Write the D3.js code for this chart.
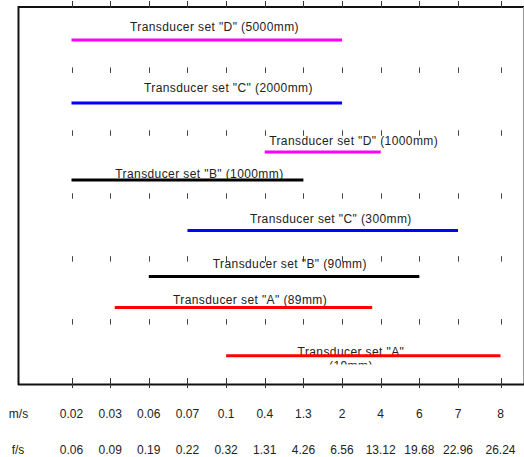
<!DOCTYPE html>
<html><head><meta charset="utf-8">
<script src="https://cdn.jsdelivr.net/npm/d3@7"></script>
<style>
html,body{margin:0;padding:0;background:#fff;}
svg{display:block;font-family:"Liberation Sans",Arial,sans-serif;}
</style></head>
<body>
<script>
// ---- data ----
const msTicks = ["0.02","0.03","0.06","0.07","0.1","0.4","1.3","2","4","6","7","8"];
const fsTicks = ["0.06","0.09","0.19","0.22","0.32","1.31","4.26","6.56","13.12","19.68","22.96","26.24"];
const seriesNames = ['Transducer set "D" (5000mm)','Transducer set "C" (2000mm)','Transducer set "D" (1000mm)','Transducer set "B" (1000mm)','Transducer set "C" (300mm)','Transducer set "B" (90mm)','Transducer set "A" (89mm)','Transducer set "A" (19mm)'];
const rangeStart = [0, 0, 5, 0, 3, 2, 1.12, 4];      // in tick-index units along velocity axis
const rangeEnd   = [7, 7, 8, 6, 10, 9, 7.78, 11];
const seriesColor = ["#ff00ff","#0000ff","#ff00ff","#000000","#0000ff","#000000","#ff0000","#ff0000"];
// ---- layout ----
const rowLevel = [0.526, 1.527, 2.305, 2.75, 3.554, 4.285, 4.778, 5.545];
const labelX   = [3.70, 4.06, 7.30, 3.31, 6.71, 5.65, 4.62, 7.23];
const labelDy  = [-9, -11, -7, -2, -8, -9, -4, 0];

const W = 524, H = 457;
const svg = d3.select("body").append("svg").attr("width", W).attr("height", H);

const x = d3.scaleLinear().domain([0, 10, 11]).range([71.5, 458, 500.5]);
const y = d3.scaleLinear().domain([0, 6]).range([7, 384.5]);

// frame
svg.append("line").attr("x1",18).attr("x2",W).attr("y1",7).attr("y2",7).attr("stroke","#111").attr("stroke-width",2);
svg.append("line").attr("x1",18.5).attr("x2",18.5).attr("y1",6).attr("y2",385).attr("stroke","#111").attr("stroke-width",2);
svg.append("line").attr("x1",523.5).attr("x2",523.5).attr("y1",7).attr("y2",385).attr("stroke","#999").attr("stroke-width",1);
svg.append("line").attr("x1",18).attr("x2",W).attr("y1",384.5).attr("y2",384.5).attr("stroke","#111").attr("stroke-width",2);

const idx = d3.range(msTicks.length);
// top ticks
svg.append("g").selectAll("line").data(idx).join("line")
  .attr("x1", d => Math.round(x(d)) + 0.5).attr("x2", d => Math.round(x(d)) + 0.5)
  .attr("y1", 1).attr("y2", 8).attr("stroke","#333").attr("stroke-width",1);
// mid row ticks
[1,2,3,4,5].forEach(r => {
  svg.append("g").selectAll("line").data(idx).join("line")
    .attr("x1", d => Math.round(x(d)) + 0.5).attr("x2", d => Math.round(x(d)) + 0.5)
    .attr("y1", y(r) - 2.5).attr("y2", y(r) + 3).attr("stroke","#444").attr("stroke-width",1);
});
// bottom ticks
svg.append("g").selectAll("line").data(idx).join("line")
  .attr("x1", d => Math.round(x(d)) + 0.5).attr("x2", d => Math.round(x(d)) + 0.5)
  .attr("y1", 378).attr("y2", 388).attr("stroke","#333").attr("stroke-width",1);

// clip for wrapped label
svg.append("clipPath").attr("id","clipA").append("rect").attr("x",0).attr("y",0).attr("width",W).attr("height",364.5);

const rows = seriesNames.map((n,i)=>({name:n,s:rangeStart[i],e:rangeEnd[i],c:seriesColor[i],lv:rowLevel[i],lx:labelX[i],dy:labelDy[i]}));

// labels
rows.forEach((d,i) => {
  const g = svg.append("g");
  if (i === rows.length - 1) {
    g.attr("clip-path","url(#clipA)");
    const parts = d.name.split(" (");
    g.append("text").attr("x", x(d.lx)).attr("y", y(d.lv) + d.dy).attr("text-anchor","middle")
      .attr("font-size",12).attr("letter-spacing",0.4).attr("fill","#222").text(parts[0]);
    g.append("text").attr("x", x(d.lx)).attr("y", y(d.lv) + d.dy + 14).attr("text-anchor","middle")
      .attr("font-size",12).attr("letter-spacing",0.4).attr("fill","#222").text("(" + parts[1]);
  } else {
    g.append("text").attr("x", x(d.lx)).attr("y", y(d.lv) + d.dy).attr("text-anchor","middle")
      .attr("font-size",12).attr("letter-spacing",0.4).attr("fill","#222").text(d.name);
  }
});

// range bars
svg.append("g").selectAll("line").data(rows).join("line")
  .attr("x1", d => x(d.s)).attr("x2", d => x(d.e))
  .attr("y1", d => y(d.lv)).attr("y2", d => y(d.lv))
  .attr("stroke", d => d.c).attr("stroke-width", 3);

// axis labels
svg.append("text").attr("x",18.5).attr("y",417.5).attr("text-anchor","middle").attr("font-size",12).attr("fill","#222").text("m/s");
svg.append("text").attr("x",18).attr("y",453.5).attr("text-anchor","middle").attr("font-size",12).attr("fill","#222").text("f/s");
svg.append("g").selectAll("text").data(msTicks).join("text")
  .attr("x",(d,i)=>x(i)).attr("y",417.5).attr("text-anchor","middle").attr("font-size",12).attr("fill","#222").text(d=>d);
const fsT = svg.append("g").selectAll("text").data(fsTicks).join("text")
  .attr("x",(d,i)=>x(i)).attr("y",453.5).attr("text-anchor","middle").attr("font-size",12).attr("fill","#222").text(d=>d);
fsT.each(function(){
  const bb = this.getBBox();
  if (bb.x + bb.width > W - 2) d3.select(this).attr("x", +d3.select(this).attr("x") - (bb.x + bb.width - (W - 2)));
});
</script>
</body></html>
